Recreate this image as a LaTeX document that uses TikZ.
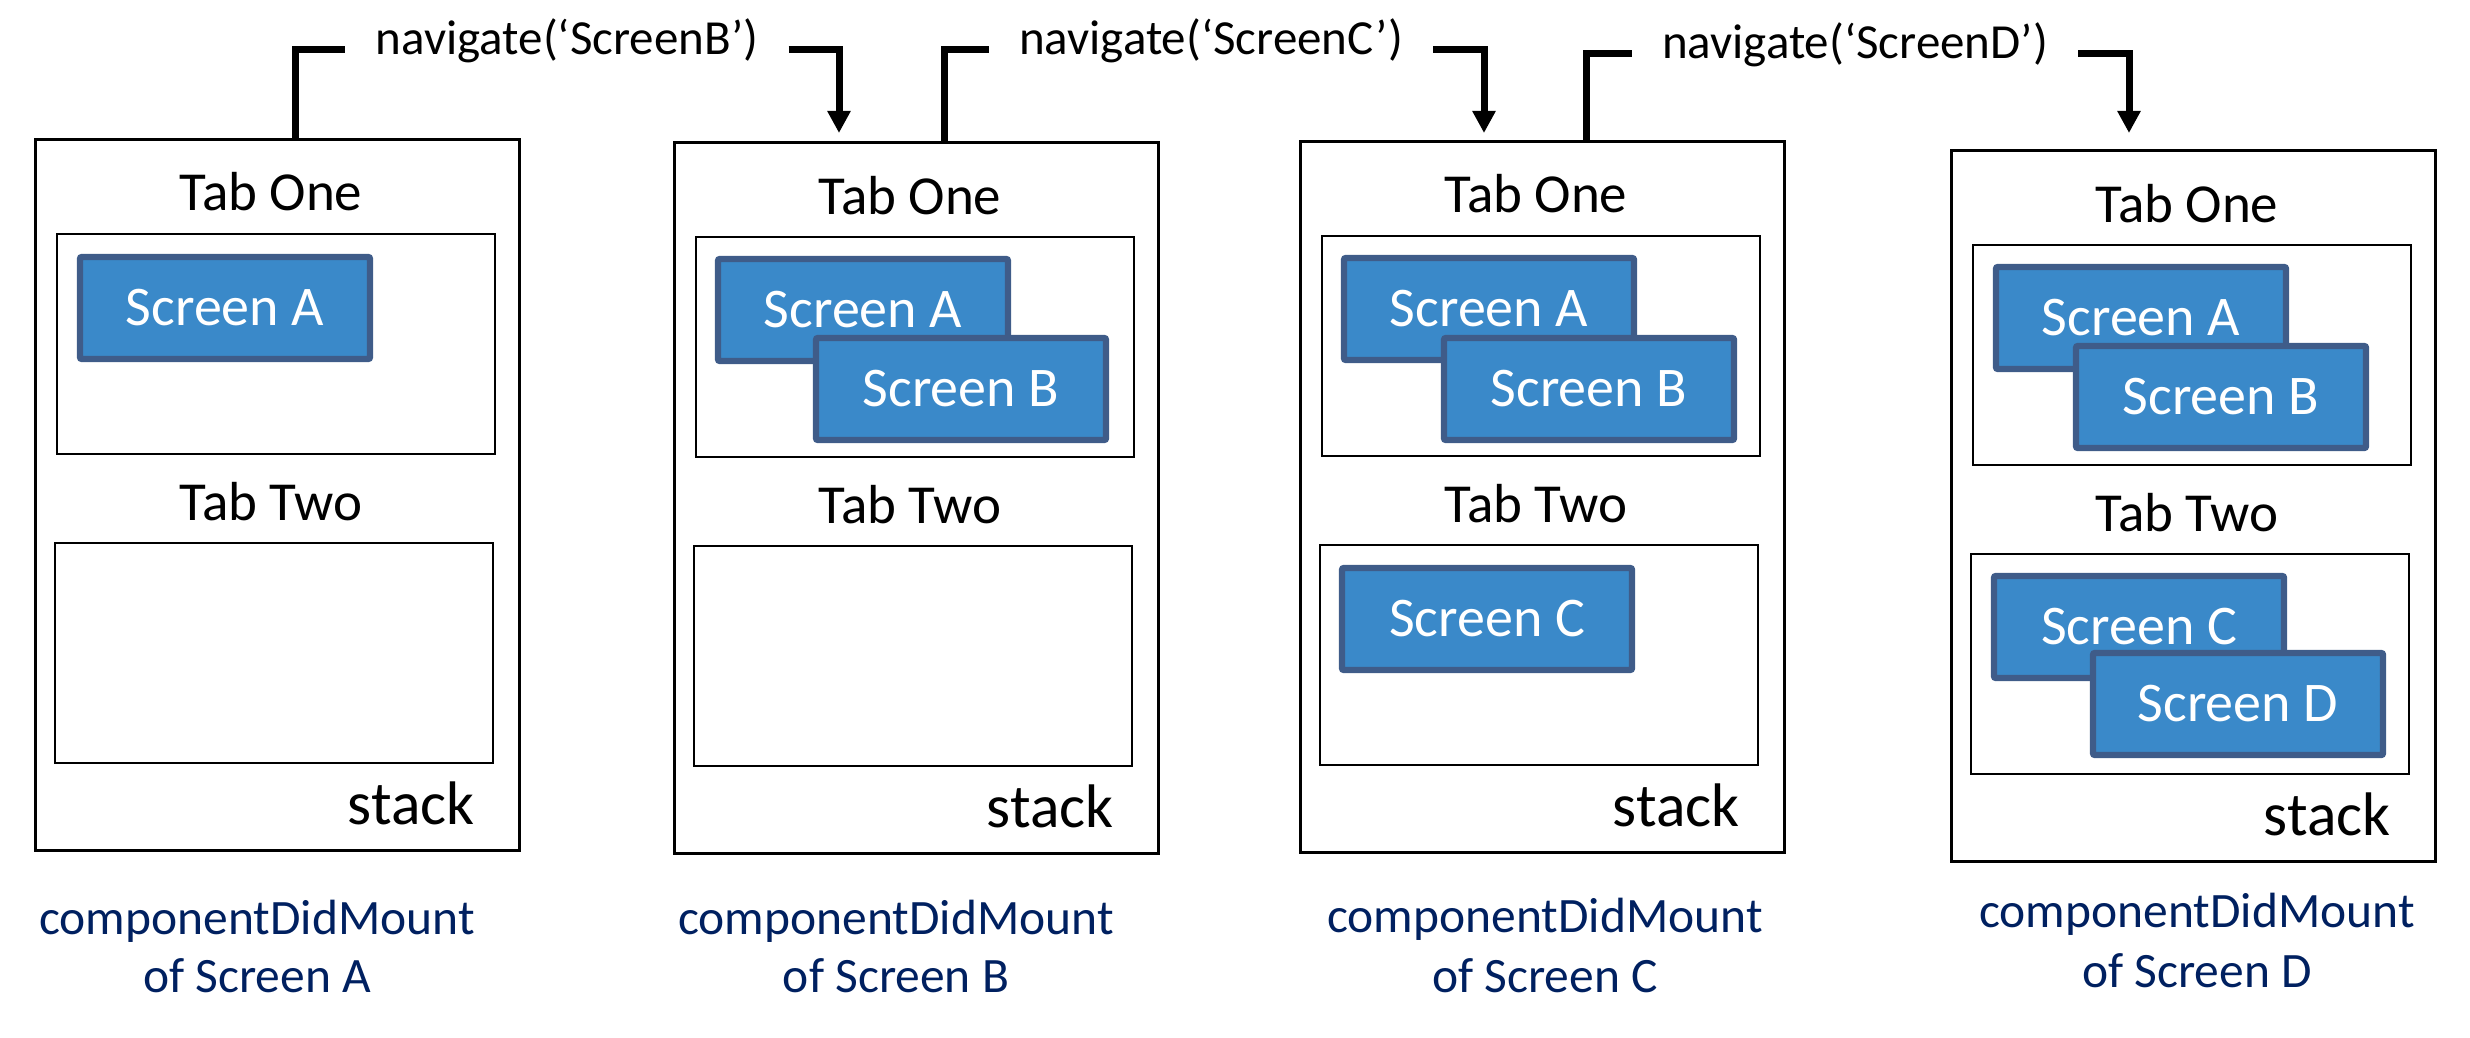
\documentclass[tikz,border=0pt]{standalone}
\usepackage{fontspec}
\setmainfont{Carlito}
\usetikzlibrary{arrows.meta}
\definecolor{scrfill}{RGB}{58,137,201}
\definecolor{scrborder}{RGB}{63,92,137}
\definecolor{capblue}{RGB}{0,32,96}
\tikzset{
 panelbox/.style={draw, line width=1.5pt, minimum width=242pt, minimum height=355pt, inner sep=0pt, outer sep=0pt, anchor=north west},
 tabbox/.style={draw, line width=1.4pt, minimum width=219pt, minimum height=110pt, inner sep=0pt, outer sep=0pt, anchor=north west},
 tablabel/.style={anchor=base, inner sep=0pt, font=\fontsize{27.5}{33}\selectfont},
 stacklabel/.style={anchor=base east, inner sep=0pt, font=\fontsize{30.75}{36}\selectfont},
 scr/.style={draw=scrborder, fill=scrfill, line width=3.2pt, rounded corners=1pt, minimum width=145pt, minimum height=51pt, inner sep=0pt, outer sep=0pt, anchor=north west, text=white, font=\fontsize{28}{33}\selectfont},
 navlabel/.style={inner ysep=0pt, inner xsep=15pt, text height=0.75em, text depth=0.25em, anchor=base, font=\fontsize{24.5}{29}\selectfont},
 caption/.style={anchor=base, inner sep=0pt, text=capblue, font=\fontsize{24.75}{29}\selectfont},
 conn/.style={line width=3.5pt},
 connarrow/.style={line width=3.5pt, -{Triangle[length=11pt,width=11pt]}}
}
\newcommand\drawpanel[3]{%
 \begin{scope}[shift={(#2,#3)}]
  \node[panelbox] (#1) at (0,0) {};
  \node[tabbox] (#1t1) at (22,94) {};
  \node[tabbox] (#1t2) at (20,403) {};
  \node[tablabel] (#1l1) at (236,71) {Tab One};
  \node[tablabel] (#1l2) at (236,380) {Tab Two};
  \node[stacklabel] (#1s) at (440,684) {stack};
 \end{scope}}
\begin{document}
\begin{tikzpicture}[x=0.5pt,y=-0.5pt]
\useasboundingbox (0,0) rectangle (2470,1038);
\drawpanel{p1}{35}{140}
\drawpanel{p2}{674}{143}
\drawpanel{p3}{1300}{142}
\drawpanel{p4}{1951}{151}
% screens
\node[scr] (p1a) at (80,257) {Screen A};
\node[scr] (p2a) at (718,259) {Screen A};
\node[scr] (p2b) at (816,338) {Screen B};
\node[scr] (p3a) at (1344,258) {Screen A};
\node[scr] (p3b) at (1444,338) {Screen B};
\node[scr] (p3c) at (1342,568) {Screen C};
\node[scr] (p4a) at (1996,267) {Screen A};
\node[scr] (p4b) at (2076,346) {Screen B};
\node[scr] (p4c) at (1994,576) {Screen C};
\node[scr] (p4d) at (2093,653) {Screen D};
% captions
\node[caption] (c1a) at (257,934) {componentDidMount};
\node[caption] (c1b) at (257,992) {of Screen A};
\node[caption] (c2a) at (896,934) {componentDidMount};
\node[caption] (c2b) at (896,992) {of Screen B};
\node[caption] (c3a) at (1545,932) {componentDidMount};
\node[caption] (c3b) at (1545,992) {of Screen C};
\node[caption] (c4a) at (2197,927) {componentDidMount};
\node[caption] (c4b) at (2197,987) {of Screen D};
% navigation labels
\node[navlabel] (nav1) at (567,55) {navigate(‘ScreenB’)};
\node[navlabel] (nav2) at (1211,55) {navigate(‘ScreenC’)};
\node[navlabel] (nav3) at (1855,59) {navigate(‘ScreenD’)};
% connectors
\draw[conn] ([xshift=130pt]p1.north west) |- (nav1.west);
\draw[connarrow, shorten >=5pt] (nav1.east) -| ([xshift=82.5pt]p2.north west);
\draw[conn] ([xshift=135pt]p2.north west) |- (nav2.west);
\draw[connarrow, shorten >=4.5pt] (nav2.east) -| ([xshift=92pt]p3.north west);
\draw[conn] ([xshift=143pt]p3.north west) |- (nav3.west);
\draw[connarrow, shorten >=9pt] (nav3.east) -| ([xshift=89pt]p4.north west);
\end{tikzpicture}
\end{document}
